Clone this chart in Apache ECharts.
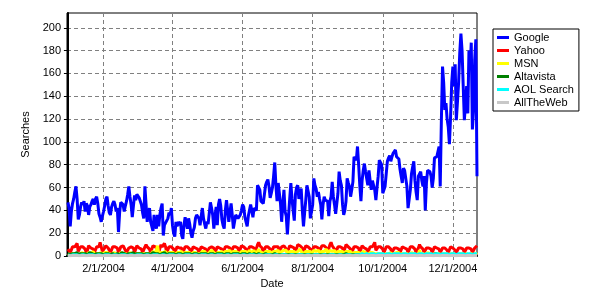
<!DOCTYPE html>
<html>
<head>
<meta charset="utf-8">
<script src="https://cdn.jsdelivr.net/npm/echarts@6/dist/echarts.min.js"></script>
<style>
html,body{margin:0;padding:0;background:#fff;}
#chart{width:600px;height:300px;}
</style>
</head>
<body>
<div id="chart"></div>
<script>
// Day index 0 = 1/1/2004 (daily values)
const tickDays = [31, 91, 152, 213, 274, 335];
const tickLabels = ['2/1/2004', '4/1/2004', '6/1/2004', '8/1/2004', '10/1/2004', '12/1/2004'];
const yTicks = [0, 20, 40, 60, 80, 100, 120, 140, 160, 180, 200];
const seriesNames = ['Google', 'Yahoo', 'MSN', 'Altavista', 'AOL Search', 'AllTheWeb'];

const google = [
47,42,26,39,46,50,56,61,50,32,
36,43,47,45,48,39,46,44,36,43,
45,48,50,45,50,52,46,37,34,30,
35,39,44,50,52,44,38,36,43,46,
48,45,39,42,21,38,47,46,45,39,
44,48,54,61,52,45,34,44,53,49,
54,53,51,50,45,38,33,61,45,30,
38,42,30,29,22,36,27,24,36,26,
36,42,46,18,27,29,30,33,38,36,
42,27,20,17,30,26,30,27,30,18,
15,27,34,33,24,33,28,20,16,22,
25,33,36,36,33,27,35,42,33,28,
24,30,28,27,47,42,36,24,35,43,
27,45,50,44,32,27,24,40,49,40,
30,38,46,36,24,30,36,35,33,34,
36,40,45,43,34,30,26,35,40,45,
40,34,42,41,40,62,60,58,48,47,
46,54,62,65,67,61,51,55,60,70,
82,62,48,64,55,46,30,45,58,39,
35,19,35,50,64,50,40,31,54,60,
62,50,49,59,40,26,38,49,62,57,
52,33,32,45,68,62,59,52,56,50,
45,32,45,52,49,48,48,35,48,52,
65,52,45,37,46,55,74,66,62,45,
36,40,48,68,64,61,52,58,65,87,
86,84,96,80,62,48,66,75,81,74,
68,62,75,66,58,66,62,58,49,60,
70,84,82,80,55,58,61,72,83,86,
88,83,87,90,91,93,87,86,85,76,
70,64,77,75,74,61,42,50,58,72,
78,83,66,56,49,70,72,74,66,61,
70,40,64,75,76,74,70,60,68,86,
87,87,87,96,61,119,166,152,128,134,
120,113,98,122,152,166,149,168,119,135,
152,178,195,180,149,119,134,149,125,180,
163,187,111,128,172,190,70
];

const yahoo = [
6,7,3,4,8,9,8, 7,11,4,4,8,7,8, 7,6,3,5,9,8,7, 8,6,3,3,8,9,8,
12,8,4,4,7,9,8, 7,6,3,3,8,7,8, 8,7,3,4,8,7,9, 7,6,3,3,7,8,8,
8,7,3,4,9,8,7, 8,6,3,4,8,10,8, 7,6,3,4,9,8,8, 7,6,3,3,10,8,7,
11,8,3,4,8,9,8, 7,6,3,3,8,9,7, 8,7,3,4,8,7,8, 7,6,3,3,8,9,7,
8,6,3,4,8,8,7, 7,6,3,3,7,8,8, 8,7,3,4,8,9,7, 7,6,3,4,8,7,8,
9,7,3,4,8,9,8, 8,7,3,4,9,8,8, 8,6,3,4,8,9,8, 9,7,3,4,10,12,9,
8,7,3,4,8,9,8, 7,6,3,3,8,9,8, 9,8,4,4,8,9,9, 8,6,3,4,9,8,8,
8,7,3,4,10,11,9, 9,7,3,4,9,10,8, 8,6,3,4,8,9,8, 9,7,4,4,9,10,9,
8,7,3,4,10,12,9, 8,6,3,4,8,9,8, 9,7,3,4,10,9,8, 8,6,3,3,8,9,8,
8,7,3,4,9,8,7, 8,6,3,3,8,9,8, 9,12,5,4,8,9,8, 8,6,3,3,8,9,8,
7,6,3,3,7,8,7, 8,6,3,3,8,9,7, 7,6,3,3,8,7,8, 8,6,3,3,7,10,8,
7,6,3,3,7,8,7, 8,6,3,3,8,8,7, 6,6,3,3,7,8,7, 7,5,3,3,8,7,7,
7,5,3,3,7,8,7, 6,6,3,3,7,8,7, 6,6,3,3,7,8,9
];

const msn = [
2,3,1,1,2,3,2, 3,2,1,1,2,3,3, 2,3,1,2,3,2,2, 3,4,1,1,2,3,2,
2,3,1,1,3,2,3, 3,2,1,1,2,3,2, 2,3,1,2,3,4,2, 3,2,1,1,2,3,3,
2,3,1,1,2,3,2, 3,2,1,2,3,2,3, 2,3,1,1,4,3,2, 3,9,2,1,3,2,3,
3,4,1,2,3,4,3, 2,3,1,1,3,2,3, 3,4,2,1,3,4,3, 2,3,1,1,3,2,3,
3,2,1,2,3,4,3, 4,3,1,2,3,4,5, 4,3,2,1,3,4,3, 3,4,2,2,4,3,4,
4,5,2,2,4,3,4, 4,3,2,2,4,5,4, 3,4,2,2,5,4,3, 4,5,2,3,4,6,4,
4,3,2,2,4,5,4, 5,4,2,2,4,5,4, 4,5,2,3,4,3,5, 4,5,2,2,4,5,4,
5,4,2,3,4,5,6, 4,5,2,2,4,5,4, 5,4,2,2,5,4,4, 4,5,3,2,4,5,4,
5,6,2,3,5,4,4, 4,5,2,2,4,5,4, 5,4,2,2,4,3,4, 3,4,2,1,3,4,3,
4,3,2,2,3,4,3, 3,4,1,2,3,4,3, 3,2,1,2,3,2,3, 2,3,1,1,2,3,2,
2,3,1,1,2,2,3, 2,3,1,1,2,3,2, 2,2,1,1,2,3,2, 2,3,1,1,2,5,2,
2,2,1,1,2,3,2, 2,3,1,1,2,2,2, 1,2,1,1,2,2,1, 2,2,1,1,2,3,2,
2,1,1,1,2,2,1, 2,1,1,1,2,2,1, 1,2,1,1,2,2,3
];

const altavista = [
2,2,1,1,2,2,2, 2,3,1,1,2,2,2, 2,2,1,1,2,3,2, 2,2,1,1,2,2,2,
3,2,1,1,2,2,2, 2,2,1,1,2,2,1, 2,2,1,1,2,3,2, 2,2,1,1,2,2,2,
2,3,1,1,2,2,2, 2,2,1,1,2,2,2, 2,2,1,1,3,2,2, 2,2,1,1,2,2,2,
3,2,1,1,2,2,2, 2,2,1,1,2,2,2, 2,2,1,1,2,3,2, 2,2,1,1,2,2,2,
2,2,1,1,2,2,2, 2,2,1,1,2,2,2, 2,3,1,1,2,2,2, 2,2,1,1,2,2,1,
2,2,1,1,2,2,2, 2,2,1,1,2,2,1, 2,1,1,1,2,2,1, 2,2,1,1,2,2,1,
1,2,1,1,2,1,1, 2,1,1,1,1,2,1, 1,2,1,1,1,2,1, 2,1,1,1,2,1,1,
1,2,1,1,1,2,1, 1,1,1,1,2,1,1, 1,1,1,1,1,2,1, 1,1,1,1,1,1,1,
1,2,1,1,1,1,1, 1,1,1,1,1,1,1, 1,1,1,1,2,1,1, 1,1,1,1,1,1,1,
1,1,1,1,1,2,1, 1,1,1,1,1,1,1, 1,1,1,1,1,1,1, 1,1,1,1,2,1,1,
1,1,1,1,1,1,1, 1,1,1,1,1,1,1, 1,2,1,1,1,1,1, 1,1,1,1,1,1,1,
1,1,1,1,1,1,1, 1,1,1,1,1,2,1, 1,1,1,1,1,1,1, 1,1,1,1,1,1,1,
1,1,1,1,1,1,1, 1,1,1,1,1,1,1, 1,1,1,1,1,1,1
];

const aol = [
1,1,0.5,0.5,1,1,1, 1,1,0.5,0.5,1,1,1, 1,1,0.5,0.5,1,1,1, 1,1,0.5,0.5,1,1,1,
1,1,0.5,0.5,1,1,1, 1,1,0.5,0.5,1,1,1, 1,1,0.5,0.5,1,1,1, 1,1,0.5,0.5,1,1,1,
1,1,0.5,0.5,1,1,1, 1,1,0.5,0.5,1,1,1, 1,1,0.5,0.5,1,1,1, 1,1,0.5,0.5,1,1,1,
1,1,0.5,0.5,1,1,1, 1,1,0.5,0.5,1,1,1, 1,1,0.5,0.5,1,1,1, 1,1,0.5,0.5,1,1,1,
1,1,0.5,0.5,1,1,1, 1,1,0.5,0.5,1,1,1, 1,1,0.5,0.5,1,1,1, 1,1,0.5,0.5,1,1,1,
1,1,0.5,0.5,1,1,1, 1,1,0.5,0.5,1,1,1, 1,1,0.5,0.5,1,1,1, 1,1,0.5,0.5,1,1,1,
1,1,0.5,0.5,1,1,1, 1,1,0.5,0.5,1,1,1, 1,1,0.5,0.5,1,1,1, 1,1,0.5,0.5,1,1,1,
1,1,0.5,0.5,1,1,1, 1,1,0.5,0.5,1,1,1, 1,1,0.5,0.5,1,1,1, 1,1,0.5,0.5,1,1,1,
1,1,0.5,0.5,1,1,1, 1,1,0.5,0.5,1,1,1, 1,1,0.5,0.5,1,1,1, 1,1,0.5,0.5,1,1,1,
1,2,1,1,2,2,1, 2,2,1,1,2,2,2, 2,2,1,1,2,2,2, 2,2,1,1,2,2,2,
2,2,1,1,2,2,2, 2,2,1,1,2,2,2, 2,2,1,1,2,2,2, 2,2,1,1,2,2,2,
2,2,1,1,2,2,2, 2,2,1,1,2,2,2, 2,2,1,1,2,2,2, 2,2,1,1,2,2,2,
2,2,1,1,2,2,2, 2,2,1,1,2,2,2, 2,2,1,1,2,2,2
];

const alltheweb = [
0.5,0.5,0.3,0.3,0.5,0.5,0.5, 0.5,0.5,0.3,0.3,0.5,0.5,0.5, 0.5,0.5,0.3,0.3,0.5,0.5,0.5, 0.5,0.5,0.3,0.3,0.5,0.5,0.5,
0.5,0.5,0.3,0.3,0.5,0.5,0.5, 0.5,0.5,0.3,0.3,0.5,0.5,0.5, 0.5,0.5,0.3,0.3,0.5,0.5,0.5, 0.5,0.5,0.3,0.3,0.5,0.5,0.5,
0.5,0.5,0.3,0.3,0.5,0.5,0.5, 0.5,0.5,0.3,0.3,0.5,0.5,0.5, 0.5,0.5,0.3,0.3,0.5,0.5,0.5, 0.5,0.5,0.3,0.3,0.5,0.5,0.5,
0.5,0.5,0.3,0.3,0.5,0.5,0.5, 0.5,0.5,0.3,0.3,0.5,0.5,0.5, 0.5,0.5,0.3,0.3,0.5,0.5,0.5, 0.5,0.5,0.3,0.3,0.5,0.5,0.5,
0.5,0.5,0.3,0.3,0.5,0.5,0.5, 0.5,0.5,0.3,0.3,0.5,0.5,0.5, 0.5,0.5,0.3,0.3,0.5,0.5,0.5, 0.5,0.5,0.3,0.3,0.5,0.5,0.5,
0.5,0.5,0.3,0.3,0.5,0.5,0.5, 0.5,0.5,0.3,0.3,0.5,0.5,0.5, 0.5,0.5,0.3,0.3,0.5,0.5,0.5, 0.5,0.5,0.3,0.3,0.5,0.5,0.5,
0.5,0.5,0.3,0.3,0.5,0.5,0.5, 0.5,0.5,0.3,0.3,0.5,0.5,0.5, 0.5,0.5,0.3,0.3,0.5,0.5,0.5, 0.5,0.5,0.3,0.3,0.5,0.5,0.5,
0.5,0.5,0.3,0.3,0.5,0.5,0.5, 0.5,0.5,0.3,0.3,0.5,0.5,0.5, 0.5,0.5,0.3,0.3,0.5,0.5,0.5, 0.5,0.5,0.3,0.3,0.5,0.5,0.5,
0.5,0.5,0.3,0.3,0.5,0.5,0.5, 0.5,0.5,0.3,0.3,0.5,0.5,0.5, 0.5,0.5,0.3,0.3,0.5,0.5,0.5, 0.5,0.5,0.3,0.3,0.5,0.5,0.5,
0.5,0.5,0.3,0.3,0.5,0.5,0.5, 0.5,0.5,0.3,0.3,0.5,0.5,0.5, 0.5,0.5,0.3,0.3,0.5,0.5,0.5, 0.5,0.5,0.3,0.3,0.5,0.5,0.5,
0.5,0.5,0.3,0.3,0.5,0.5,0.5, 0.5,0.5,0.3,0.3,0.5,0.5,0.5, 0.5,0.5,0.3,0.3,0.5,0.5,0.5, 0.5,0.5,0.3,0.3,0.5,0.5,0.5,
0.5,0.5,0.3,0.3,0.5,0.5,0.5, 0.5,0.5,0.3,0.3,0.5,0.5,0.5, 0.5,0.5,0.3,0.3,0.5,0.5,0.5, 0.5,0.5,0.3,0.3,0.5,0.5,0.5,
0.5,0.5,0.3,0.3,0.5,0.5,0.5, 0.5,0.5,0.3,0.3,0.5,0.5,0.5, 0.5,0.5,0.3,0.3,0.5,0.5,0.5
];

const seriesValues = [google, yahoo, msn, altavista, aol, alltheweb];
const seriesColors = ['#0000FF', '#FF0000', '#FFFF00', '#008000', '#00FFFF', '#C8C8C8'];

const FONT = 'Liberation Sans';
const chart = echarts.init(document.getElementById('chart'), null, {renderer: 'canvas'});

const series = seriesNames.map((name, k) => ({
  name: name,
  type: 'line',
  data: seriesValues[k].map((v, i) => [i, v]),
  showSymbol: false,
  symbol: 'none',
  color: seriesColors[k],
  lineStyle: {color: seriesColors[k], width: 3},
  emphasis: {disabled: true},
  z: 3 + k
}));

chart.setOption({
  animation: false,
  backgroundColor: '#fff',
  grid: {left: 67, right: 123, top: 13, bottom: 44, show: true, borderColor: '#000', borderWidth: 1, backgroundColor: 'transparent'},
  legend: {
    data: seriesNames,
    orient: 'vertical',
    left: 493, top: 29,
    backgroundColor: '#fff',
    borderColor: '#000', borderWidth: 1,
    borderRadius: 0,
    padding: [3, 5, 3, 4],
    icon: 'rect',
    itemWidth: 12, itemHeight: 3,
    itemGap: 2,
    itemTextGap: 3,
    selectedMode: false,
    textStyle: {fontFamily: FONT, fontSize: 11, color: '#000', lineHeight: 11}
  },
  xAxis: {
    type: 'value',
    min: -0.8, max: 356,
    name: 'Date',
    nameLocation: 'middle',
    nameGap: 21,
    nameTextStyle: {fontFamily: FONT, fontSize: 11, color: '#000'},
    axisLine: {show: true, onZero: false, lineStyle: {color: '#000', width: 2}},
    axisTick: {show: true, length: 4, customValues: tickDays, lineStyle: {color: '#808080'}},
    axisLabel: {customValues: tickDays, margin: 7, fontFamily: FONT, fontSize: 11, color: '#000',
      formatter: v => tickLabels[tickDays.indexOf(Math.round(v))] || ''},
    splitLine: {show: true, lineStyle: {color: '#808080', type: [4, 3], width: 1}}
  },
  yAxis: {
    type: 'value',
    min: 0, max: 213,
    name: 'Searches',
    nameLocation: 'middle',
    nameGap: 33,
    nameRotate: 90,
    nameTextStyle: {fontFamily: FONT, fontSize: 11, color: '#000'},
    axisLine: {show: true, lineStyle: {color: '#000', width: 2}},
    axisTick: {show: true, length: 4, customValues: yTicks, lineStyle: {color: '#000'}},
    axisLabel: {customValues: yTicks, margin: 6, fontFamily: FONT, fontSize: 11, color: '#000'},
    splitLine: {show: true, lineStyle: {color: '#808080', type: [4, 3], width: 1}}
  },
  series: series
});
</script>
</body>
</html>
